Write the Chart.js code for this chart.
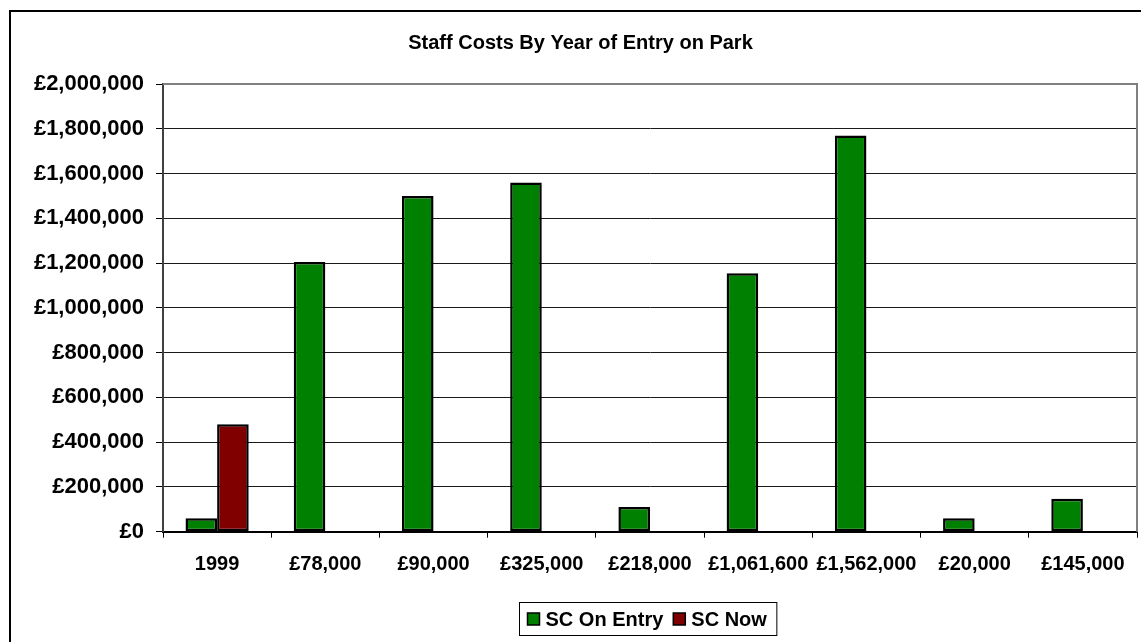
<!DOCTYPE html>
<html>
<head>
<meta charset="utf-8">
<title>Staff Costs By Year of Entry on Park</title>
<script src="https://cdn.jsdelivr.net/npm/chart.js@4.4.1/dist/chart.umd.min.js"></script>
<style>
  html, body { margin: 0; padding: 0; background: #fff; overflow: hidden; }
  #frame {
    position: absolute; left: 9px; top: 10px;
    width: 1160px; height: 660px;
    border: 2px solid #000; box-sizing: border-box;
  }
  #wrap { position: absolute; left: 0; top: 0; width: 1141px; height: 642px; }
</style>
</head>
<body>
<div id="frame"></div>
<div id="wrap"><canvas id="chart" width="1141" height="642"></canvas></div>
<script>
// Entry cohorts along the x axis
const categories = ['1999', '£78,000', '£90,000', '£325,000', '£218,000', '£1,061,600', '£1,562,000', '£20,000', '£145,000'];

// Staff costs per cohort (£)
const scOnEntry = [60000, 1205000, 1500000, 1560000, 110000, 1155000, 1770000, 60000, 147000];
const scNow     = [480000, null, null, null, null, null, null, null, null];

// Value axis ticks
const yTicks = [0, 200000, 400000, 600000, 800000, 1000000, 1200000, 1400000, 1600000, 1800000, 2000000];

const seriesNames = ['SC On Entry', 'SC Now'];
const seriesColors = ['#008000', '#800000'];

const FONT = '"Liberation Sans", Arial, Helvetica, sans-serif';

const money = v => '£' + Number(v).toLocaleString('en-GB');

// Grey frame on the top and right of the plot area
const plotFrame = {
  id: 'plotFrame',
  afterDatasetsDraw(chart) {
    const { ctx, chartArea: a } = chart;
    ctx.save();
    ctx.strokeStyle = '#808080';
    ctx.lineWidth = 2;
    ctx.beginPath();
    ctx.moveTo(a.left, a.top);
    ctx.lineTo(a.right, a.top);
    ctx.lineTo(a.right, a.bottom);
    ctx.stroke();
    ctx.restore();
  }
};

// Boxed legend centred under the plot area
const boxedLegend = {
  id: 'boxedLegend',
  afterDraw(chart) {
    const { ctx, chartArea: a } = chart;
    ctx.save();
    ctx.font = 'bold 20px ' + FONT;
    ctx.textBaseline = 'middle';
    const sw = 12, gapSwatch = 6, gapItem = 10, padL = 8, padR = 10;
    const widths = seriesNames.map(n => ctx.measureText(n).width);
    const inner = widths.reduce((s, w) => s + sw + gapSwatch + w, 0) + gapItem * (seriesNames.length - 1);
    const boxW = inner + padL + padR;
    const boxH = 33;
    const cx = (a.left + a.right) / 2 - 2;
    const x0 = Math.round(cx - boxW / 2) + 0.5;
    const y0 = 602.5;
    ctx.fillStyle = '#fff';
    ctx.fillRect(x0, y0, boxW, boxH);
    ctx.strokeStyle = '#000';
    ctx.lineWidth = 1;
    ctx.strokeRect(x0, y0, boxW, boxH);
    let x = x0 + padL;
    const cy = y0 + boxH / 2 + 1;
    seriesNames.forEach((name, i) => {
      ctx.fillStyle = seriesColors[i];
      ctx.fillRect(x, cy - sw / 2 - 1, sw, sw);
      ctx.strokeStyle = '#000';
      ctx.lineWidth = 1.5;
      ctx.strokeRect(x, cy - sw / 2 - 1, sw, sw);
      x += sw + gapSwatch;
      ctx.fillStyle = '#000';
      ctx.fillText(name, x, cy);
      x += widths[i] + gapItem;
    });
    ctx.restore();
  }
};

new Chart(document.getElementById('chart'), {
  type: 'bar',
  data: {
    labels: categories,
    datasets: [
      {
        label: seriesNames[0],
        data: scOnEntry,
        backgroundColor: seriesColors[0],
        borderColor: '#000',
        borderWidth: 2.5,
        borderSkipped: false,
        categoryPercentage: 0.584,
        barPercentage: 1.0
      },
      {
        label: seriesNames[1],
        data: scNow,
        backgroundColor: seriesColors[1],
        borderColor: '#000',
        borderWidth: 2.5,
        borderSkipped: false,
        categoryPercentage: 0.584,
        barPercentage: 1.0
      }
    ]
  },
  options: {
    responsive: false,
    animation: false,
    devicePixelRatio: 1,
    layout: { padding: { left: 24, right: 4, top: 0, bottom: 0 } },
    plugins: {
      legend: { display: false },
      tooltip: { enabled: false },
      title: {
        display: true,
        text: 'Staff Costs By Year of Entry on Park',
        color: '#000',
        font: { family: FONT, size: 20, weight: 'bold', lineHeight: 1.2 },
        padding: { top: 31, bottom: 29 }
      }
    },
    scales: {
      x: {
        offset: true,
        grid: {
          offset: true,
          drawOnChartArea: false,
          drawTicks: true,
          tickLength: 6,
          tickColor: '#000',
          tickWidth: 1
        },
        border: { display: true, color: '#000', width: 2 },
        ticks: {
          color: '#000',
          padding: 15,
          maxRotation: 0,
          autoSkip: false,
          font: { family: FONT, size: 20, weight: 'bold' }
        },
        afterFit(scale) { scale.height = 110.3; }
      },
      y: {
        min: 0,
        max: 2000000,
        afterBuildTicks(scale) { scale.ticks = yTicks.map(v => ({ value: v })); },
        grid: {
          color: ctx => (ctx.tick && ctx.tick.value === 2000000 ? 'rgba(0,0,0,0)' : '#1a1a1a'),
          lineWidth: 1,
          drawTicks: true,
          tickLength: 7,
          tickColor: '#000'
        },
        border: { display: true, color: '#404040', width: 2 },
        ticks: {
          color: '#000',
          padding: 12,
          font: { family: FONT, size: 22, weight: 'bold' },
          callback: v => money(v)
        },
        afterFit(scale) { scale.width = 139; }
      }
    }
  },
  plugins: [plotFrame, boxedLegend]
});
</script>
</body>
</html>
